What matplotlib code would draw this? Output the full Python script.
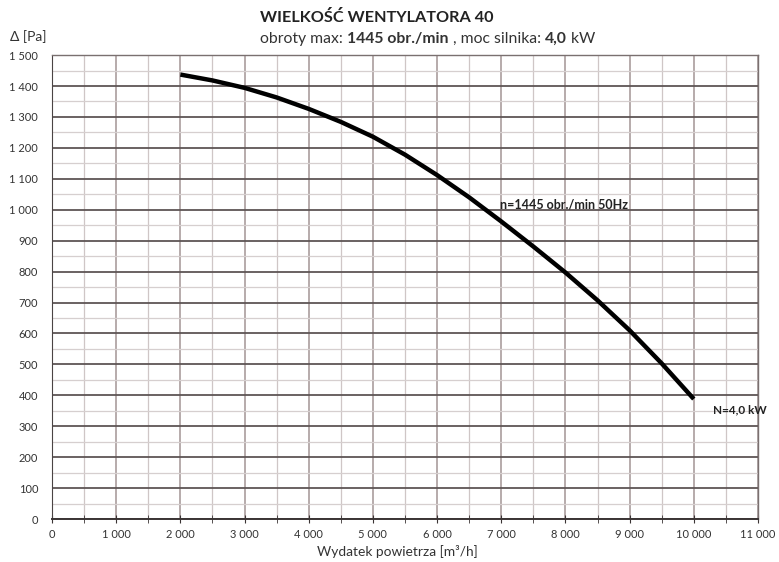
"""Fan curve chart: WIELKOŚĆ WENTYLATORA 40."""

import matplotlib
matplotlib.use("Agg")
import matplotlib.pyplot as plt
from matplotlib.ticker import FuncFormatter, MultipleLocator

plt.rcParams["font.family"] = ["Lato", "DejaVu Sans"]

# airflow [m3/h] and pressure [Pa]
flow = [2000, 2500, 3000, 3500, 4000, 4500, 5000, 5500, 6000,
        6500, 7000, 7500, 8000, 8500, 9000, 9500, 10000]
pressure = [1437, 1418, 1394, 1363, 1326, 1284, 1236, 1178, 1112,
            1040, 962, 881, 797, 707, 610, 503, 388]

title = "WIELKOŚĆ WENTYLATORA 40"
subtitle_parts = [("obroty max: ", "normal"), ("1445 obr./min", "bold"),
                  (" , moc silnika: ", "normal"), ("4,0", "bold"), (" kW", "normal")]
curve_label = "n=1445 obr./min 50Hz"
power_label = "N=4,0 kW"


def thousands(value, _pos):
    return f"{int(value):,}".replace(",", " ")


def main() -> None:
    fig = plt.figure(figsize=(7.79, 5.62), dpi=100)
    ax = fig.add_axes([0.0668, 0.0765, 0.9062, 0.8255])

    ax.set_xlim(0, 11000)
    ax.set_ylim(0, 1500)
    ax.xaxis.set_major_locator(MultipleLocator(1000))
    ax.xaxis.set_minor_locator(MultipleLocator(500))
    ax.yaxis.set_major_locator(MultipleLocator(100))
    ax.yaxis.set_minor_locator(MultipleLocator(50))
    ax.xaxis.set_major_formatter(FuncFormatter(thousands))
    ax.yaxis.set_major_formatter(FuncFormatter(thousands))

    ax.grid(axis="y", which="major", color="#5e5555", linewidth=1.3)
    ax.grid(axis="y", which="minor", color="#d6cfcf", linewidth=0.9)
    ax.grid(axis="x", which="major", color="#a39595", linewidth=1.1)
    ax.grid(axis="x", which="minor", color="#cfc6c6", linewidth=0.9)
    ax.set_axisbelow(True)

    for side in ("top", "right"):
        ax.spines[side].set_color("#7a7070")
        ax.spines[side].set_linewidth(1.0)
    ax.spines["left"].set_color("#4a4444")
    ax.spines["bottom"].set_color("#3a3434")
    ax.spines["bottom"].set_linewidth(1.4)

    ax.tick_params(axis="x", which="both", direction="inout", length=6,
                   color="#3a3434", labelsize=8, labelcolor="#333333", pad=4)
    ax.tick_params(axis="y", which="both", length=0, labelsize=8,
                   labelcolor="#333333", pad=10)

    ax.plot(flow, pressure, color="black", linewidth=3.2,
            solid_capstyle="butt", solid_joinstyle="round")

    ax.text(6980, 1018, curve_label, fontsize=9, fontweight="bold",
            color="#222222", va="center", ha="left")
    ax.text(10300, 352, power_label, fontsize=8.5, fontweight="bold",
            color="#222222", va="center", ha="left")

    fig.text(0.5096, 0.018, "Wydatek powietrza [m³/h]", fontsize=9.9,
             color="#333333", ha="center", va="center")
    fig.text(0.013, 0.935, "Δ [Pa]", fontsize=10, color="#333333", va="center")

    fig.text(0.334, 0.968, title, fontsize=11.7, fontweight="bold",
             color="#222222", va="center")

    # subtitle mixes normal and bold runs: place them one after another
    renderer = fig.canvas.get_renderer()
    x = 0.334
    for text, weight in subtitle_parts:
        piece = fig.text(x, 0.924, text, fontsize=11.3, fontweight=weight,
                         color="#333333", va="baseline", ha="left")
        x += piece.get_window_extent(renderer).width / fig.bbox.width

    fig.savefig("out.png", dpi=100)
    plt.close(fig)


if __name__ == "__main__":
    main()
